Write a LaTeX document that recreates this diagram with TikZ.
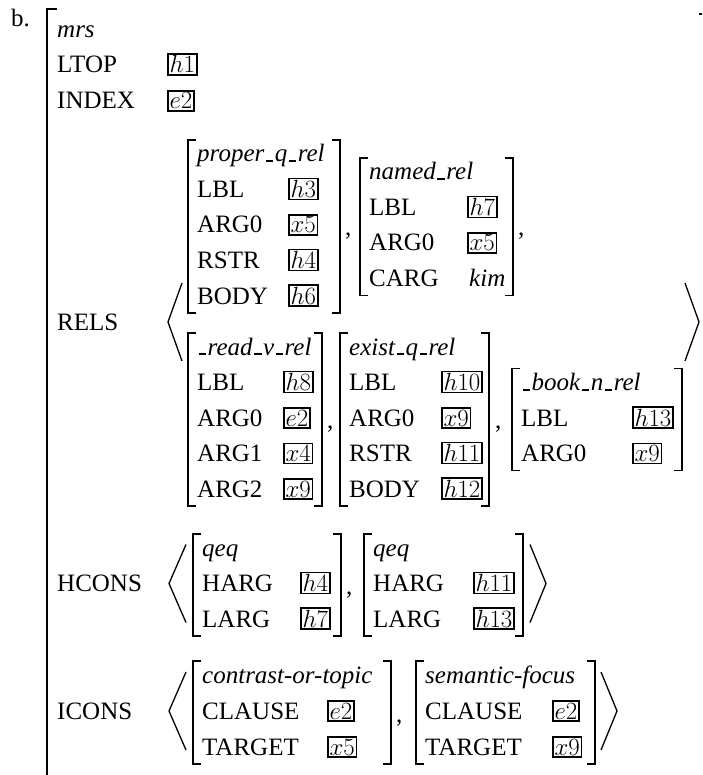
\documentclass[tikz,border=0pt]{standalone}
\usepackage{fontspec}
\setmainfont{Liberation Serif}
\usepackage{tikz}

\newcommand{\avmfont}{\fontsize{25}{30}\selectfont}
\newcommand{\usc}{\leavevmode\kern.06em\vbox{\hrule height 1.6pt width .3em}\kern.06em}
\newcommand{\lbrk}[3]{\draw[brk] (#1+8,#2) -- (#1,#2) -- (#1,#3) -- (#1+8,#3);}
\newcommand{\rbrk}[3]{\draw[brk] (#1-8,#2) -- (#1,#2) -- (#1,#3) -- (#1-8,#3);}
\newcommand{\angbr}[3]{\draw[brk] (#2,#3-39) -- (#1,#3) -- (#2,#3+39);}

\tikzset{
	attr/.style={anchor=base west, inner sep=0pt, font=\avmfont},
	avmtype/.style={anchor=base west, inner sep=0pt, font=\avmfont\itshape},
	tagbox/.style={anchor=base west, draw, line width=1.5pt, inner sep=1.8pt, font=\avmfont},
	brk/.style={line width=1.3pt},
}

\begin{document}
\begin{tikzpicture}[x=1pt, y=-1pt]
	\useasboundingbox (0,0) rectangle (702,775);
	
	\node[attr] (b) at (11,27) {b.};
	\node[avmtype] (mrs) at (57,38) {mrs};
	\node[attr] (ltop) at (57,73) {LTOP};
	\node[tagbox] (ltopv) at (167,73) {$h1$};
	\node[attr] (index) at (57,109) {INDEX};
	\node[tagbox] (indexv) at (167,109) {$e2$};
	\node[attr] (rels) at (57,330) {RELS};
	\node[attr] (hcons) at (57,591.5) {HCONS};
	\node[attr] (icons) at (57,719) {ICONS};
	
	\node[avmtype] (pq) at (197,162) {proper\usc q\usc rel};
	\node[attr] (pqlbl) at (197,197.5) {LBL};
	\node[tagbox] (pqlblv) at (288,197.5) {$h3$};
	\node[attr] (pqarg) at (197,233) {ARG0};
	\node[tagbox] (pqargv) at (288,233) {$x5$};
	\node[attr] (pqrstr) at (197,268.5) {RSTR};
	\node[tagbox] (pqrstrv) at (288,268.5) {$h4$};
	\node[attr] (pqbody) at (197,304) {BODY};
	\node[tagbox] (pqbodyv) at (288,304) {$h6$};
	\node[attr] (comma1) at (345,236) {,};
	
	\node[avmtype] (nm) at (369,180) {named\usc rel};
	\node[attr] (nmlbl) at (369,215.5) {LBL};
	\node[tagbox] (nmlblv) at (467,215.5) {$h7$};
	\node[attr] (nmarg) at (369,251) {ARG0};
	\node[tagbox] (nmargv) at (467,251) {$x5$};
	\node[attr] (nmcarg) at (369,286.5) {CARG};
	\node[avmtype] (nmcargv) at (469,286.5) {kim};
	\node[attr] (comma2) at (518,236) {,};
	
	\node[avmtype] (rd) at (197,355) {\usc read\usc v\usc rel};
	\node[attr] (rdlbl) at (197,390.5) {LBL};
	\node[tagbox] (rdlblv) at (283,390.5) {$h8$};
	\node[attr] (rdarg) at (197,426) {ARG0};
	\node[tagbox] (rdargv) at (283,426) {$e2$};
	\node[attr] (rdarga) at (197,461.5) {ARG1};
	\node[tagbox] (rdargav) at (283,461.5) {$x4$};
	\node[attr] (rdargb) at (197,497) {ARG2};
	\node[tagbox] (rdargbv) at (283,497) {$x9$};
	\node[attr] (comma3) at (327,428) {,};
	
	\node[avmtype] (eq) at (349,355) {exist\usc q\usc rel};
	\node[attr] (eqlbl) at (349,390.5) {LBL};
	\node[tagbox] (eqlblv) at (441,390.5) {$h10$};
	\node[attr] (eqarg) at (349,426) {ARG0};
	\node[tagbox] (eqargv) at (441,426) {$x9$};
	\node[attr] (eqrstr) at (349,461.5) {RSTR};
	\node[tagbox] (eqrstrv) at (441,461.5) {$h11$};
	\node[attr] (eqbody) at (349,497) {BODY};
	\node[tagbox] (eqbodyv) at (441,497) {$h12$};
	\node[attr] (comma4) at (495,428) {,};
	
	\node[avmtype] (bk) at (521,390.5) {\usc book\usc n\usc rel};
	\node[attr] (bklbl) at (521,426) {LBL};
	\node[tagbox] (bklblv) at (632,426) {$h13$};
	\node[attr] (bkarg) at (521,461.5) {ARG0};
	\node[tagbox] (bkargv) at (632,461.5) {$x9$};
	
	\node[avmtype] (qa) at (202,556) {qeq};
	\node[attr] (qaharg) at (202,591.5) {HARG};
	\node[tagbox] (qahargv) at (300,591.5) {$h4$};
	\node[attr] (qalarg) at (202,627) {LARG};
	\node[tagbox] (qalargv) at (300,627) {$h7$};
	\node[attr] (comma5) at (346,594) {,};
	
	\node[avmtype] (qb) at (373,556) {qeq};
	\node[attr] (qbharg) at (373,591.5) {HARG};
	\node[tagbox] (qbhargv) at (473,591.5) {$h11$};
	\node[attr] (qblarg) at (373,627) {LARG};
	\node[tagbox] (qblargv) at (473,627) {$h13$};
	
	\node[avmtype] (ct) at (202,683) {contrast-or-topic};
	\node[attr] (ctclause) at (202,719) {CLAUSE};
	\node[tagbox] (ctclausev) at (327,719) {$e2$};
	\node[attr] (cttarget) at (202,755) {TARGET};
	\node[tagbox] (cttargetv) at (327,755) {$x5$};
	\node[attr] (comma6) at (396,722) {,};
	
	\node[avmtype] (sf) at (425,683) {semantic-focus};
	\node[attr] (sfclause) at (425,719) {CLAUSE};
	\node[tagbox] (sfclausev) at (552,719) {$e2$};
	\node[attr] (sftarget) at (425,755) {TARGET};
	\node[tagbox] (sftargetv) at (552,755) {$x9$};
	
	\draw[brk] (57,9) -- (47,9) -- (47,775);
	\draw[brk] (699,14) -- (702,14);
	
	\angbr{168}{182}{322}
	\angbr{699}{685}{322}
	\lbrk{188}{140}{313} \rbrk{340}{140}{313}
	\lbrk{360}{158}{295.5} \rbrk{513}{158}{295.5}
	\lbrk{188}{333}{506} \rbrk{322}{333}{506}
	\lbrk{340}{333}{506} \rbrk{489}{333}{506}
	\lbrk{512}{368.5}{470.5} \rbrk{682}{368.5}{470.5}
	
	\angbr{169}{186}{583.5}
	\angbr{546}{530}{583.5}
	\lbrk{193}{534}{636} \rbrk{341}{534}{636}
	\lbrk{364}{534}{636} \rbrk{523}{534}{636}
	
	\angbr{169}{186}{711}
	\angbr{617}{601}{711}
	\lbrk{193}{661}{764} \rbrk{391}{661}{764}
	\lbrk{416}{661}{764} \rbrk{595}{661}{764}
	
\end{tikzpicture}
\end{document}
